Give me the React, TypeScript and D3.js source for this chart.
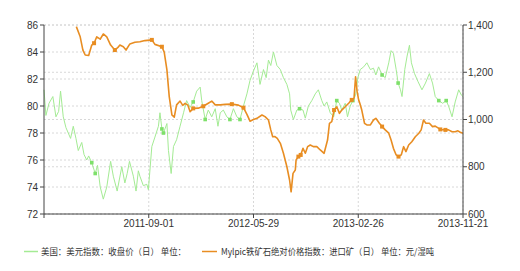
import React from "react";
import * as d3 from "d3";

const W = 520;
const H = 271;

// x-axis tick dates (evenly spaced on the category-like axis); first is axis start
const axisDates = ["2010-12-03", "2011-09-01", "2012-05-29", "2013-02-26", "2013-11-21"];
const tickLabels = ["2011-09-01", "2012-05-29", "2013-02-26", "2013-11-21"];

const leftTicks = [72, 74, 76, 78, 80, 82, 84, 86];
const rightTicks = [600, 800, 1000, 1200, 1400];

const seriesNames = [
  "美国：美元指数：收盘价（日） 单位：",
  "Mylpic铁矿石绝对价格指数：进口矿（日） 单位：元/湿吨",
];

// US dollar index (left axis)
const usdDates = [
  "2010-12-03","2010-12-08","2010-12-16","2010-12-26","2011-01-03","2011-01-10","2011-01-15","2011-01-22",
  "2011-01-29","2011-02-04","2011-02-10","2011-02-17","2011-02-24","2011-03-02","2011-03-11","2011-03-17",
  "2011-03-24","2011-03-29","2011-04-06","2011-04-15","2011-04-21","2011-04-28","2011-05-06","2011-05-15",
  "2011-05-25","2011-06-01","2011-06-11","2011-06-23","2011-07-01","2011-07-07","2011-07-13","2011-07-23",
  "2011-07-30","2011-08-05","2011-08-09","2011-08-18","2011-08-27","2011-08-31","2011-09-09","2011-09-17",
  "2011-09-26","2011-09-30","2011-10-05","2011-10-09","2011-10-18","2011-10-22","2011-10-29","2011-11-04",
  "2011-11-12","2011-11-21","2011-11-30","2011-12-08","2011-12-17","2011-12-25","2012-01-03","2012-01-12",
  "2012-01-16","2012-01-25","2012-02-02","2012-02-11","2012-02-20","2012-02-27","2012-03-04","2012-03-12",
  "2012-03-21","2012-03-29","2012-04-07","2012-04-16","2012-04-24","2012-05-03","2012-05-12","2012-05-20",
  "2012-05-29","2012-06-07","2012-06-15","2012-06-24","2012-07-01","2012-07-07","2012-07-13","2012-07-20",
  "2012-07-29","2012-08-07","2012-08-15","2012-08-24","2012-08-31","2012-09-03","2012-09-10","2012-09-19",
  "2012-09-26","2012-10-05","2012-10-11","2012-10-19","2012-10-28","2012-11-06","2012-11-14","2012-11-23",
  "2012-11-29","2012-12-06","2012-12-15","2012-12-24","2013-01-01","2013-01-08","2013-01-14","2013-01-23",
  "2013-01-29","2013-02-05","2013-02-12","2013-02-19","2013-02-25","2013-03-03","2013-03-12","2013-03-20",
  "2013-03-29","2013-04-06","2013-04-12","2013-04-19","2013-04-28","2013-05-06","2013-05-15","2013-05-21",
  "2013-05-27","2013-06-03","2013-06-08","2013-06-14","2013-06-18","2013-06-25","2013-07-01","2013-07-07",
  "2013-07-12","2013-07-20","2013-07-29","2013-08-08","2013-08-17","2013-08-27","2013-09-04","2013-09-11",
  "2013-09-20","2013-09-30","2013-10-09","2013-10-15","2013-10-24","2013-11-01","2013-11-10","2013-11-17",
  "2013-11-21",
];
const usdValues = [
  81.2, 79.3, 80.2, 80.7, 79.2, 79.6, 81.1, 79.2,
  78.4, 78.0, 77.6, 78.5, 77.6, 76.7, 77.3, 76.4,
  76.0, 76.3, 75.8, 75.0, 75.6, 74.0, 73.1, 74.0,
  75.9, 74.8, 73.7, 75.5, 74.3, 75.0, 75.9, 74.8,
  73.7, 75.2, 74.8, 74.1, 74.2, 73.8, 77.0, 77.7,
  78.5, 79.5, 78.3, 78.0, 78.7, 76.7, 75.0, 77.0,
  77.5, 78.5, 79.5, 80.4, 79.9, 80.3, 81.1, 81.4,
  80.4, 79.0, 79.7, 79.2, 79.8, 78.5, 79.5, 79.7,
  79.2, 79.0, 79.8, 79.2, 79.0, 80.0, 80.9, 81.9,
  82.6, 83.2, 81.6, 82.7, 82.1, 83.4, 83.0, 84.0,
  83.0, 82.7, 82.1, 81.6, 80.9, 79.7, 79.0, 79.7,
  79.8, 79.7, 79.1, 80.0, 80.4, 80.9, 81.2, 80.4,
  80.0, 80.3, 79.5, 79.2, 80.4, 80.2, 79.7, 80.2,
  79.2, 80.0, 80.4, 80.8, 82.1, 82.7, 82.9, 83.2,
  82.7, 82.8, 82.3, 82.9, 82.3, 82.1, 83.2, 84.1,
  83.9, 82.7, 81.7, 81.2, 80.7, 82.7, 83.7, 84.5,
  83.2, 82.4, 81.8, 81.2, 81.7, 82.4, 81.7, 80.7,
  80.4, 80.2, 80.4, 80.0, 79.2, 80.3, 81.2, 80.8,
  80.7,
];
// highlighted points on the dollar index line
const usdMarkerDates = [
  "2011-04-06","2011-04-15","2011-10-05","2011-10-09","2011-12-25","2012-01-25",
  "2012-03-29","2012-04-24","2012-09-26","2013-01-01","2013-02-12","2013-04-28",
  "2013-06-08","2013-09-20","2013-10-09",
];

// Mylpic iron ore absolute price index (right axis)
const oreDates = [
  "2011-02-25","2011-03-07","2011-03-14","2011-03-20","2011-03-29","2011-04-06","2011-04-12","2011-04-19",
  "2011-04-28","2011-05-06","2011-05-15","2011-05-25","2011-06-05","2011-06-13","2011-06-18","2011-06-27",
  "2011-07-04","2011-07-14","2011-07-27","2011-08-09","2011-08-22","2011-09-09","2011-09-17","2011-10-05",
  "2011-10-11","2011-10-18","2011-10-24","2011-10-31","2011-11-06","2011-11-12","2011-11-21","2011-11-28",
  "2011-12-04","2011-12-11","2011-12-17","2011-12-25","2012-01-07","2012-01-20","2012-02-02","2012-02-11",
  "2012-02-20","2012-03-04","2012-03-17","2012-04-03","2012-04-20","2012-05-03","2012-05-12","2012-05-20",
  "2012-05-29","2012-06-07","2012-06-20","2012-06-28","2012-07-07","2012-07-13","2012-07-18","2012-07-24",
  "2012-07-30","2012-08-07","2012-08-15","2012-08-24","2012-08-31","2012-09-04","2012-09-09","2012-09-15",
  "2012-09-17","2012-09-23","2012-09-29","2012-10-05","2012-10-11","2012-10-17","2012-10-24","2012-11-01",
  "2012-11-10","2012-11-19","2012-11-29","2012-12-08","2012-12-13","2012-12-19","2012-12-25","2013-01-01",
  "2013-01-08","2013-01-14","2013-01-23","2013-02-01","2013-02-09","2013-02-15","2013-02-19","2013-02-23",
  "2013-02-27","2013-03-02","2013-03-07","2013-03-14","2013-03-20","2013-03-29","2013-04-06","2013-04-12",
  "2013-04-21","2013-04-28","2013-05-06","2013-05-15","2013-05-21","2013-05-27","2013-06-03","2013-06-09",
  "2013-06-16","2013-06-22","2013-06-28","2013-07-05","2013-07-13","2013-07-22","2013-07-31","2013-08-06",
  "2013-08-12","2013-08-18","2013-08-27","2013-09-04","2013-09-11","2013-09-24","2013-10-07","2013-10-15",
  "2013-10-24","2013-11-01","2013-11-08","2013-11-14","2013-11-21",
];
const oreValues = [
  1393, 1350, 1294, 1273, 1271, 1315, 1323, 1350,
  1340, 1362, 1350, 1315, 1294, 1305, 1315, 1308,
  1294, 1320, 1327, 1329, 1334, 1337, 1318, 1308,
  1285, 1210, 1097, 1019, 1010, 1062, 1078, 1060,
  1068, 1061, 1033, 1047, 1048, 1056, 1069, 1078,
  1062, 1062, 1064, 1065, 1061, 1050, 1022, 993,
  1000, 1005, 1019, 1012, 998, 956, 927, 928,
  920, 899, 857, 800, 744, 694, 772, 786,
  829, 843, 850, 878, 857, 885, 892, 885,
  885, 871, 857, 913, 984, 991, 1040, 1054,
  1026, 1040, 1054, 1069, 1083, 1090, 1181, 1120,
  1083, 1069, 1040, 984, 977, 977, 998, 1005,
  984, 970, 956, 942, 913, 878, 850, 843,
  850, 885, 864, 892, 906, 927, 942, 956,
  998, 984, 984, 970, 972, 958, 956, 956,
  948, 948, 952, 946, 942,
];
// highlighted points on the iron ore line
const oreMarkerDates = [
  "2011-04-12","2011-06-05","2011-09-09","2011-10-05","2011-12-25","2012-01-20",
  "2012-04-03","2012-05-03","2012-09-23","2012-09-29","2012-12-25","2013-02-09",
  "2013-04-28","2013-06-09","2013-09-24","2013-10-07",
];

const GREEN = "#a4eb94";
const GREEN_MK = "#7ee06a";
const ORANGE = "#e88d22";
const GRID = "#d8d8d8";
const AXIS = "#444";
const TEXT = "#333";
const FONT = "'Liberation Sans', Arial, sans-serif";
const CJK = "'Noto Sans CJK SC', sans-serif";

const M = { left: 44, right: 57, top: 25, bottom: 57 };

type P = { d: Date; v: number };

export default function App() {
  const x0 = M.left;
  const x1 = W - M.right;
  const y0 = M.top;
  const y1 = H - M.bottom;
  const parse = d3.utcParse("%Y-%m-%d");
  const axisD = axisDates.map((s) => parse(s) as Date);
  const step = (x1 - x0) / (axisD.length - 1);
  const x = d3.scaleUtc().domain(axisD).range(axisD.map((_, i) => x0 + i * step));
  const yL = d3.scaleLinear().domain([72, 86]).range([y1, y0]);
  const yR = d3.scaleLinear().domain([600, 1400]).range([y1, y0]);

  const usd: P[] = usdDates.map((d, i) => ({ d: parse(d) as Date, v: usdValues[i] }));
  const ore: P[] = oreDates.map((d, i) => ({ d: parse(d) as Date, v: oreValues[i] }));
  const usdMk = usdMarkerDates.map((s) => usd[usdDates.indexOf(s)]).filter(Boolean);
  const oreMk = oreMarkerDates.map((s) => ore[oreDates.indexOf(s)]).filter(Boolean);

  const lineL = d3.line<P>().x((p) => x(p.d)).y((p) => yL(p.v));
  const lineR = d3.line<P>().x((p) => x(p.d)).y((p) => yR(p.v));

  const tickDates = tickLabels.map((s) => parse(s) as Date);
  const legendY = 251.5;

  return (
    <div style={{ position: "absolute", left: 0, top: 0 }}>
      <svg width={W} height={H} style={{ display: "block", background: "#fff" }}>
        {/* horizontal grid */}
        {leftTicks.map((t) => (
          <line key={"gl" + t} x1={x0} x2={x1} y1={yL(t)} y2={yL(t)} stroke={GRID} strokeDasharray="2,2" />
        ))}
        {rightTicks.map((t) => (
          <line key={"gr" + t} x1={x0} x2={x1} y1={yR(t)} y2={yR(t)} stroke={GRID} strokeDasharray="2,2" />
        ))}
        {/* vertical grid */}
        {tickDates.map((d, i) => (
          <line key={"gv" + i} x1={x(d)} x2={x(d)} y1={y0} y2={y1} stroke={GRID} strokeDasharray="2,2" />
        ))}

        {/* series */}
        <path d={lineL(usd) || ""} fill="none" stroke={GREEN} strokeWidth={1} strokeLinejoin="round" />
        {usdMk.map((p, i) => (
          <rect key={"um" + i} x={x(p.d) - 1.8} y={yL(p.v) - 1.8} width={3.6} height={3.6} fill={GREEN_MK} />
        ))}
        <path d={lineR(ore) || ""} fill="none" stroke={ORANGE} strokeWidth={1.6} strokeLinejoin="round" />
        {oreMk.map((p, i) => (
          <rect key={"om" + i} x={x(p.d) - 2} y={yR(p.v) - 2} width={4} height={4} fill={ORANGE} />
        ))}

        {/* left axis */}
        <line x1={x0} x2={x0} y1={y0} y2={y1} stroke={AXIS} />
        {leftTicks.map((t) => (
          <g key={"lt" + t}>
            <line x1={x0 - 4} x2={x0} y1={yL(t)} y2={yL(t)} stroke={AXIS} />
            <text x={x0 - 6} y={yL(t)} dy="0.35em" textAnchor="end" fontSize={10} fill={TEXT} fontFamily={FONT}>
              {t}
            </text>
          </g>
        ))}
        {/* right axis */}
        <line x1={x1} x2={x1} y1={y0} y2={y1} stroke={AXIS} />
        {rightTicks.map((t) => (
          <g key={"rt" + t}>
            <line x1={x1} x2={x1 + 4} y1={yR(t)} y2={yR(t)} stroke={AXIS} />
            <text x={x1 + 5} y={yR(t)} dy="0.35em" textAnchor="start" fontSize={10} fill={TEXT} fontFamily={FONT}>
              {d3.format(",")(t)}
            </text>
          </g>
        ))}
        {/* bottom axis */}
        <line x1={x0} x2={x1} y1={y1} y2={y1} stroke={AXIS} />
        <line x1={x0} x2={x0} y1={y1} y2={y1 + 4} stroke={AXIS} />
        {tickDates.map((d, i) => (
          <g key={"bt" + i}>
            <line x1={x(d)} x2={x(d)} y1={y1} y2={y1 + 4} stroke={AXIS} />
            <text x={x(d)} y={y1 + 13} textAnchor="middle" fontSize={10} fill={TEXT} fontFamily={FONT}>
              {tickLabels[i]}
            </text>
          </g>
        ))}

        {/* legend */}
        <line x1={24} x2={38} y1={legendY} y2={legendY} stroke={GREEN} strokeWidth={1.5} />
        <text x={41} y={legendY} dy="0.35em" fontSize={9} fill={TEXT} fontFamily={CJK}
          textLength={145} lengthAdjust="spacingAndGlyphs">
          {seriesNames[0]}
        </text>
        <line x1={202} x2={217} y1={legendY} y2={legendY} stroke={ORANGE} strokeWidth={1.5} />
        <text x={221} y={legendY} dy="0.35em" fontSize={9} fill={TEXT} fontFamily={CJK}
          textLength={213} lengthAdjust="spacingAndGlyphs">
          {seriesNames[1]}
        </text>
      </svg>
    </div>
  );
}
